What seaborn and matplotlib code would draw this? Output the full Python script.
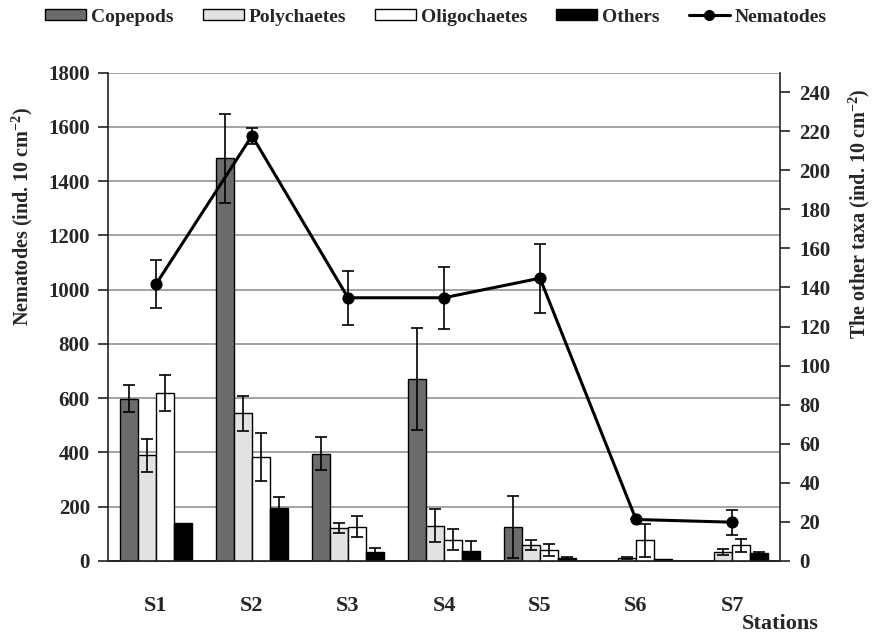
import numpy as np
import pandas as pd
import matplotlib
matplotlib.use("Agg")
import matplotlib.pyplot as plt
from matplotlib.patches import Patch
from matplotlib.lines import Line2D
import seaborn as sns

# Meiofauna densities per station
stations = ["S1", "S2", "S3", "S4", "S5", "S6", "S7"]
taxa = ["Copepods", "Polychaetes", "Oligochaetes", "Others"]

copepods = [83, 206, 55, 93, 17.5, 0, 0]
copepods_err = [7, 23, 8.5, 26, 16, 0, 0]
polychaetes = [54, 75.5, 17, 18, 8, 1.5, 4.5]
polychaetes_err = [8.5, 8.8, 2.7, 8.5, 2.5, 0.5, 1.5]
oligochaetes = [86, 53, 17.5, 11, 5.5, 10.5, 8]
oligochaetes_err = [9, 12.3, 5.4, 5.5, 3, 8.5, 3.3]
others = [19.5, 27, 4.5, 5, 1.5, 1, 4]
others_err = [0, 6, 2.3, 5, 0.5, 0, 0.5]

nematodes = [1020, 1567, 970, 970, 1042, 153, 143]
nematodes_err = [88, 30, 100, 115, 127, 0, 46]

left_ticks = list(range(0, 1801, 200))
right_ticks = list(range(0, 241, 20))

colors = {"Copepods": "#6b6b6b", "Polychaetes": "#e2e2e2",
          "Oligochaetes": "#ffffff", "Others": "#000000"}

sns.set_style("white")
plt.rcParams["font.family"] = ["Liberation Serif", "DejaVu Serif"]
plt.rcParams["font.weight"] = "bold"
plt.rcParams["mathtext.fontset"] = "custom"
plt.rcParams["mathtext.rm"] = "Liberation Serif:bold"
plt.rcParams["mathtext.bf"] = "Liberation Serif:bold"
plt.rcParams["mathtext.default"] = "bf"

values = [copepods, polychaetes, oligochaetes, others]
errors = [copepods_err, polychaetes_err, oligochaetes_err, others_err]
df = pd.DataFrame({
    "station": np.tile(stations, len(taxa)),
    "taxon": np.repeat(taxa, len(stations)),
    "density": np.concatenate(values),
})

fig = plt.figure(figsize=(8.75, 6.37), dpi=100)
ax_n = fig.add_axes([108 / 875, 1 - 561 / 637, 672 / 875, 488.5 / 637])
ax_t = ax_n.twinx()
ax_l = ax_n.twinx()

# Nematode scale (left) with gridlines
ax_n.set_ylim(0, 1800)
ax_n.set_yticks(left_ticks)
ax_n.yaxis.grid(True, color="#9c9c9c", linewidth=1.3)
ax_n.xaxis.grid(False)
ax_n.set_axisbelow(True)

# Other taxa bars (right scale)
sns.barplot(data=df, x="station", y="density", hue="taxon", order=stations,
            hue_order=taxa, palette=colors, edgecolor="black", linewidth=1.0,
            width=0.74, gap=0, errorbar=None, legend=False, ax=ax_t)
for cont, err in zip(ax_t.containers, errors):
    xs = np.array([b.get_x() + b.get_width() / 2 for b in cont])
    hs = np.array([b.get_height() for b in cont])
    err = np.array(err)
    mask = err > 0
    ax_t.errorbar(xs[mask], hs[mask], yerr=err[mask], fmt="none", ecolor="black",
                  elinewidth=1.2, capsize=4, capthick=1.2)
ax_t.set_ylim(0, 250)
ax_t.set_yticks(right_ticks)
ax_t.set_xlabel("")
ax_t.set_ylabel("")

# Nematodes line on top
ax_l.set_ylim(0, 1800)
sns.lineplot(x=np.arange(len(stations)), y=nematodes, ax=ax_l, color="black",
             linewidth=2.2, marker="o", markersize=8, markeredgecolor="black")
ax_l.errorbar(np.arange(len(stations)), nematodes, yerr=nematodes_err, fmt="none",
              ecolor="black", elinewidth=1.2, capsize=4, capthick=1.2)
ax_l.set_axis_off()

# x axis: station labels, boundary ticks
ax_n.set_xlim(-0.5, len(stations) - 0.5)
ax_n.set_xticks(np.arange(len(stations)))
ax_n.set_xticklabels(stations)
ax_n.set_xticks(np.arange(len(stations) + 1) - 0.5, minor=True)
ax_n.tick_params(axis="x", which="major", length=0, pad=25, labelsize=16)
ax_n.tick_params(axis="x", which="minor", length=6, width=1.2, direction="out",
                 color="#222222")
ax_n.tick_params(axis="y", length=7, width=1.2, direction="out", pad=6,
                 labelsize=15, color="#222222")
ax_t.tick_params(axis="y", length=7, width=1.2, direction="out", pad=7,
                 labelsize=15, color="#222222")

for a in (ax_n, ax_t):
    a.spines["top"].set_visible(False)
    for s in ("left", "right", "bottom"):
        a.spines[s].set_color("#222222")
        a.spines[s].set_linewidth(1.2)
ax_n.spines["right"].set_visible(False)
ax_t.spines["left"].set_visible(False)

ax_n.set_ylabel(r"Nematodes (ind. 10 cm$^{-2}$)", fontsize=14.5, fontweight="bold")
ax_n.yaxis.set_label_coords(-0.108, 0.705)
ax_t.set_ylabel(r"The other taxa (ind. 10 cm$^{-2}$)", fontsize=14.5,
                fontweight="bold", rotation=90)
ax_t.yaxis.set_label_coords(1.1, 0.71)

fig.text(780 / 875, 1 - 624 / 637, "Stations", ha="center", va="center",
         fontsize=16, fontweight="bold")

handles = [Patch(facecolor=colors[t], edgecolor="black", linewidth=1.0) for t in taxa]
handles.append(Line2D([0], [0], color="black", linewidth=2.2, marker="o", markersize=7))
fig.legend(handles, taxa + ["Nematodes"], loc="center", ncol=5, frameon=False,
           bbox_to_anchor=(436 / 875, 1 - 17 / 637), fontsize=14,
           handlelength=2.1, handleheight=0.55, handletextpad=0.25, columnspacing=1.5)

fig.savefig("out.png", dpi=100)
